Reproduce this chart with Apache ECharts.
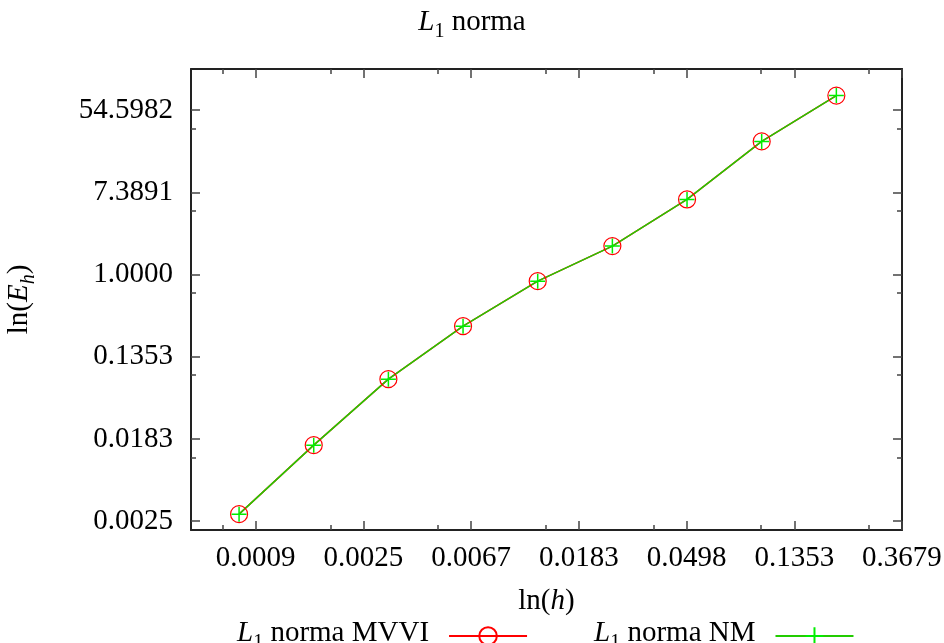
<!DOCTYPE html>
<html>
<head>
<meta charset="utf-8">
<script src="https://cdn.jsdelivr.net/npm/echarts@6/dist/echarts.min.js"></script>
<style>
html,body{margin:0;padding:0;background:#fff;}
#chart{width:944px;height:643px;}
</style>
</head>
<body>
<div id="chart"></div>
<script>
// ---- data ----
const hValues = [0.00078125, 0.0015625, 0.003125, 0.00625, 0.0125, 0.025, 0.05, 0.1, 0.2];
const errMVVI = [0.00294, 0.01575, 0.0785, 0.285, 0.851, 1.996, 6.21, 25.5, 77.7];
const errNM   = [0.00294, 0.01575, 0.0785, 0.285, 0.851, 1.996, 6.21, 25.5, 77.7];

// ---- axes (natural-log scale) ----
const xTickExp = [-7, -6, -5, -4, -3, -2, -1];
const xTickLabels = ['0.0009', '0.0025', '0.0067', '0.0183', '0.0498', '0.1353', '0.3679'];
const xMinorExp = [-7.307, -6.307, -5.307, -4.307, -3.307, -2.307, -1.307];
const yTickExp = [-6, -4, -2, 0, 2, 4];
const yTickLabels = ['0.0025', '0.0183', '0.1353', '1.0000', '7.3891', '54.5982'];
const yMinorExp = [-4.446, -2.446, -0.446, 1.554, 3.554];
const xRange = [0.0005, 0.3679];
const yRange = [0.002, 148.41];

const FONT = 'Liberation Serif';
const FS = 29;

const toPairs = (xs, ys) => xs.map((x, i) => [Math.log(x), Math.log(ys[i])]);

function labelFor(exps, labels) {
  return v => {
    for (let i = 0; i < exps.length; i++) if (Math.abs(exps[i] - v) < 1e-6) return labels[i];
    return '';
  };
}

const axisLineOn = { show: true, onZero: false, lineStyle: { color: '#222', width: 2 } };
const axisLineOff = { show: false, onZero: false };
const tickStyle = { color: '#444', width: 1.5 };

const xMin = Math.log(xRange[0]), xMax = Math.log(xRange[1]);
const yMin = Math.log(yRange[0]), yMax = Math.log(yRange[1]);

function xAxisDef(pos, major, withLabels) {
  return {
    type: 'value', position: pos, min: xMin, max: xMax, gridIndex: 0,
    axisLine: major ? axisLineOn : axisLineOff,
    axisTick: { show: true, inside: true, length: major ? 9 : 5, lineStyle: tickStyle,
      customValues: major ? xTickExp : xMinorExp },
    axisLabel: withLabels ? {
      show: true, customValues: xTickExp, formatter: labelFor(xTickExp, xTickLabels),
      fontFamily: FONT, fontSize: FS, color: '#000', margin: 14
    } : { show: false },
    splitLine: { show: false }
  };
}
function yAxisDef(pos, major, withLabels) {
  return {
    type: 'value', position: pos, min: yMin, max: yMax, gridIndex: 0,
    axisLine: major ? axisLineOn : axisLineOff,
    axisTick: { show: true, inside: true, length: major ? 9 : 5, lineStyle: tickStyle,
      customValues: major ? yTickExp : yMinorExp },
    axisLabel: withLabels ? {
      show: true, customValues: yTickExp, formatter: labelFor(yTickExp, yTickLabels),
      fontFamily: FONT, fontSize: FS, color: '#000', margin: 18
    } : { show: false },
    splitLine: { show: false }
  };
}

const richBase = {
  t: { fontFamily: FONT, fontSize: FS, fontWeight: 'normal', color: '#000', verticalAlign: 'bottom', padding: [0, 0, 5, 0] },
  i: { fontFamily: FONT, fontSize: FS, fontWeight: 'normal', fontStyle: 'italic', color: '#000', verticalAlign: 'bottom', padding: [0, 0, 5, 0] },
  s: { fontFamily: FONT, fontSize: 20, fontWeight: 'normal', color: '#000', verticalAlign: 'bottom' },
  si: { fontFamily: FONT, fontSize: 20, fontWeight: 'normal', fontStyle: 'italic', color: '#000', verticalAlign: 'bottom' },
  sp: { width: 15 }
};

const xAxes = [xAxisDef('bottom', true, true), xAxisDef('bottom', false, false),
               xAxisDef('top', true, false), xAxisDef('top', false, false)];
xAxes[0].name = '{t|ln(}{i|h}{t|)}';
xAxes[0].nameLocation = 'middle';
xAxes[0].nameGap = 57;
xAxes[0].nameTextStyle = { rich: richBase };

const yAxes = [yAxisDef('left', true, true), yAxisDef('left', false, false),
               yAxisDef('right', true, false), yAxisDef('right', false, false)];
yAxes[0].name = '{t|ln(}{i|E}{si|h}{t|)}';
yAxes[0].nameLocation = 'middle';
yAxes[0].nameGap = 152;
yAxes[0].nameTextStyle = { rich: richBase };

const chart = echarts.init(document.getElementById('chart'), null, { renderer: 'canvas' });
chart.setOption({
  animation: false,
  backgroundColor: '#fff',
  title: {
    text: '{i|L}{s|1}{t| norma}',
    left: 'center', top: 3,
    textStyle: { fontWeight: 'normal', rich: richBase }
  },
  grid: { left: 191, right: 42, top: 69, bottom: 113, containLabel: false, outerBoundsMode: 'none' },
  xAxis: xAxes,
  yAxis: yAxes,
  legend: {
    left: 232, top: 614,
    align: 'right',
    itemWidth: 78, itemHeight: 22, itemGap: 66,
    formatter: name => name === 'MVVI'
      ? '{i|L}{s|1}{t| norma MVVI}{sp| }'
      : '{i|L}{s|1}{t| norma NM}{sp| }',
    textStyle: { rich: richBase },
    data: ['MVVI', 'NM']
  },
  series: [
    {
      name: 'MVVI', type: 'line', xAxisIndex: 0, yAxisIndex: 0,
      data: toPairs(hValues, errMVVI),
      symbol: 'circle', symbolSize: 17,
      itemStyle: { color: 'transparent', borderColor: '#ff0000', borderWidth: 1.2 },
      lineStyle: { color: '#ff0000', width: 1.5 },
      emphasis: { disabled: true }
    },
    {
      name: 'NM', type: 'line', xAxisIndex: 0, yAxisIndex: 0,
      data: toPairs(hValues, errNM),
      symbol: 'path://M0,5L10,5M5,0L5,10', symbolSize: 15,
      itemStyle: { color: 'transparent', borderColor: '#00ee00', borderWidth: 1.5 },
      lineStyle: { color: '#22cc00', width: 1.5 },
      emphasis: { disabled: true }
    }
  ]
});
</script>
</body>
</html>
